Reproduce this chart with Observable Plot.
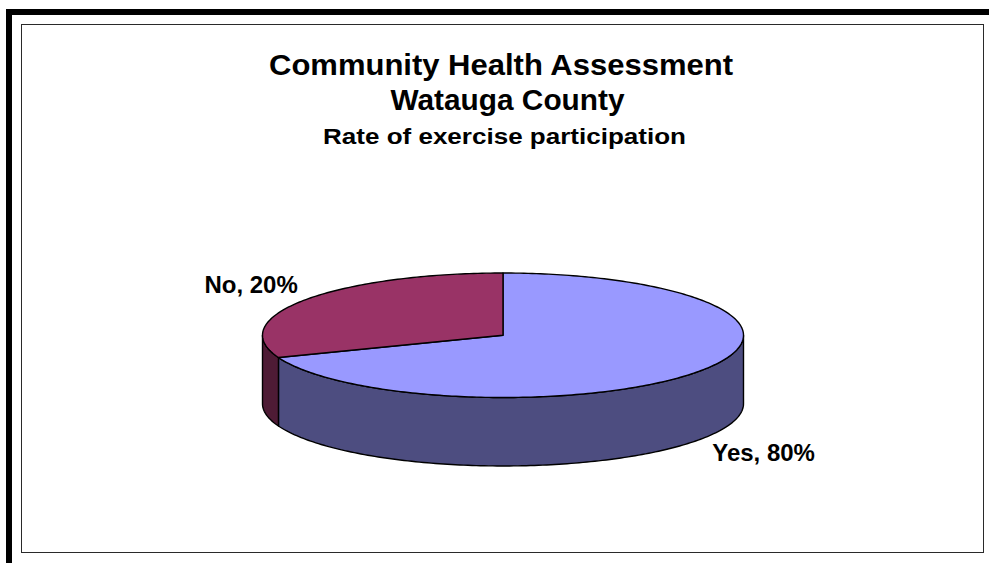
<!DOCTYPE html>
<html><head><meta charset="utf-8">
<script src="https://cdn.jsdelivr.net/npm/d3@7"></script>
<script src="https://cdn.jsdelivr.net/npm/@observablehq/plot@0.6"></script>
<style>
html,body{margin:0;padding:0;background:#fff;}
#page{position:relative;width:989px;height:563px;overflow:hidden;font-family:"Liberation Sans",Arial,sans-serif;}
.bar{position:absolute;background:#000;}
#inner{position:absolute;left:21px;top:24px;width:963px;height:529px;border:1.5px solid #2a2a2a;box-sizing:border-box;}
#titles{position:absolute;left:0;top:0;}
#chart{position:absolute;left:0;top:0;}
</style></head>
<body><div id="page">
<div class="bar" style="left:6px;top:9px;width:983px;height:6px"></div>
<div class="bar" style="left:6px;top:9px;width:6px;height:554px"></div>
<div id="inner"></div>
<svg id="titles" width="989" height="170" font-family="Liberation Sans, Arial, sans-serif" font-weight="bold" fill="#000">
  <text x="501" y="75" font-size="29" text-anchor="middle" textLength="464" lengthAdjust="spacingAndGlyphs">Community Health Assessment</text>
  <text x="507.5" y="110" font-size="29" text-anchor="middle" textLength="234" lengthAdjust="spacingAndGlyphs">Watauga County</text>
  <text x="504.5" y="143.5" font-size="21.5" text-anchor="middle" textLength="363" lengthAdjust="spacingAndGlyphs">Rate of exercise participation</text>
</svg>
<div id="chart"></div>
</div>
<script>
// ---- data ----
const categories = ["Yes", "No"];
const values = [80, 20];
const labels = ["Yes, 80%", "No, 20%"];
const topColors = ["#9999FF", "#993366"];
const sideColors = ["#4D4D80", "#4E1B35"];

// ---- 3D pie projection settings ----
const skew = 41;     // Excel-style angular distortion of the tilted pie (deg)
const depth = 1.1;   // wall height, in y units of the top ellipse

const rad = Math.PI / 180;
const total = d3.sum(values);
const warp = t => t + skew * Math.sin(t * rad);
let cum = 0;
const slices = values.map((v, i) => {
  const t0 = cum / total * 360, t1 = (cum + v) / total * 360;
  cum += v;
  // clockwise from 12 o'clock -> parametric angle counter-clockwise from +x
  return {i, a0: 90 - warp(t0), a1: 90 - warp(t1)};
});

function arc(hi, lo, dy = 0) {
  const n = Math.max(2, Math.ceil(Math.abs(hi - lo)));
  return d3.range(n + 1).map(k => {
    const p = (hi - (hi - lo) * k / n) * rad;
    return {x: Math.cos(p), y: Math.sin(p) - dy};
  });
}

const marks = [];
// walls (front half only)
slices.forEach(s => {
  for (let k = -2; k <= 1; k++) {
    const lo = Math.max(s.a1, 180 + 360 * k), hi = Math.min(s.a0, 360 + 360 * k);
    if (hi - lo > 0.01) {
      const pts = arc(hi, lo).concat(arc(lo, hi, depth));
      marks.push(Plot.line(pts, {x: "x", y: "y", curve: "linear-closed",
        fill: sideColors[s.i], stroke: "#000", strokeWidth: 1.4, strokeLinejoin: "round"}));
    }
  }
});
// top faces
slices.forEach(s => {
  const pts = [{x: 0, y: 0}].concat(arc(s.a0, s.a1));
  marks.push(Plot.line(pts, {x: "x", y: "y", curve: "linear-closed",
    fill: topColors[s.i], stroke: "#000", strokeWidth: 1.4, strokeLinejoin: "round"}));
});
// data labels
slices.forEach(s => {
  const m = (s.a0 + s.a1) / 2 * rad;
  const front = Math.sin(m) < 0;
  const pt = {x: Math.cos(m), y: Math.sin(m) - (front ? depth : 0), label: labels[s.i]};
  marks.push(Plot.text([pt], {x: "x", y: "y", text: "label",
    textAnchor: Math.cos(m) > 0 ? "start" : "end",
    dx: front ? 11 : -7, dy: front ? 14 : -15,
    fontSize: 24, fontWeight: "bold", fontFamily: "Liberation Sans, Arial, sans-serif", fill: "#000"}));
});

const chart = Plot.plot({
  width: 989, height: 563, margin: 0,
  x: {axis: null, domain: [-1, 1], range: [262, 743]},
  y: {axis: null, domain: [1, -1], range: [272.5, 397]},
  style: {background: "transparent", overflow: "visible"},
  marks
});
document.getElementById("chart").append(chart);
</script>
</body></html>
